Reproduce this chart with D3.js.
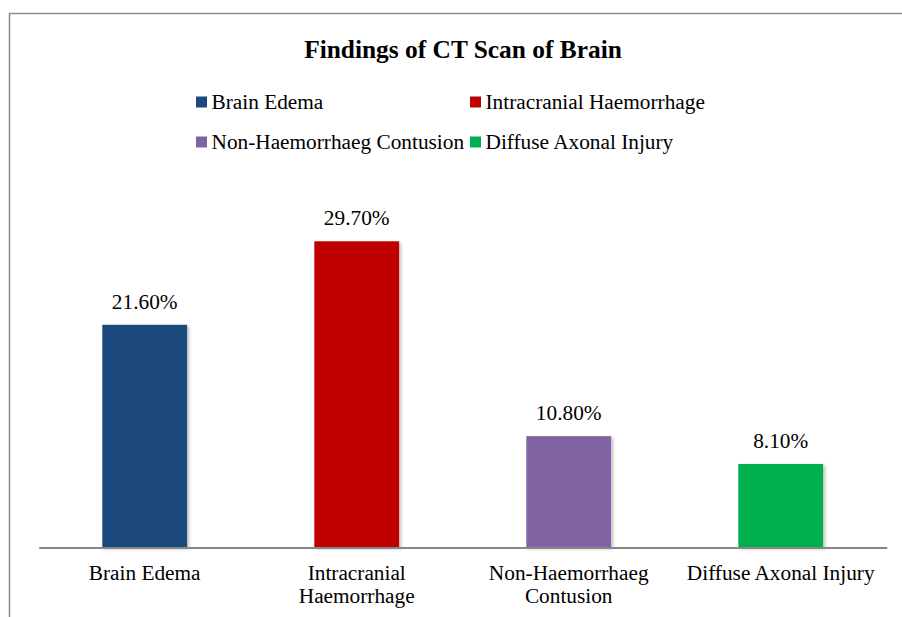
<!DOCTYPE html>
<html>
<head>
<meta charset="utf-8">
<script src="https://cdn.jsdelivr.net/npm/d3@7"></script>
<style>
  body { margin: 0; background: #fff; }
  text { font-family: "Liberation Serif", "Times New Roman", serif; fill: #000; }
</style>
</head>
<body>
<div id="chart"></div>
<script>
const w = 902;
const h = 617;

const categories = ["Brain Edema", "Intracranial Haemorrhage", "Non-Haemorrhaeg Contusion", "Diffuse Axonal Injury"];
const values = [21.6, 29.7, 10.8, 8.1];
const colors = ["#1F497D", "#C00000", "#8064A2", "#00B050"];
const title = "Findings of CT Scan of Brain";

const svg = d3.select('#chart')
  .append('svg')
  .attr('width', w)
  .attr('height', h);

// soft shadow like the office chart bars
const defs = svg.append('defs');
defs.append('filter')
  .attr('id', 'shadow')
  .attr('x', '-20%').attr('y', '-20%')
  .attr('width', '140%').attr('height', '140%')
  .append('feDropShadow')
  .attr('dx', 2).attr('dy', 1.5)
  .attr('stdDeviation', 1.5)
  .attr('flood-color', '#000')
  .attr('flood-opacity', 0.25);

// outer frame (runs off the right and bottom edge)
svg.append('rect')
  .attr('x', 9.5).attr('y', 13.5)
  .attr('width', 920).attr('height', 640)
  .attr('fill', 'none')
  .attr('stroke', '#8c8c8c')
  .attr('stroke-width', 1.5);

svg.append('text')
  .attr('x', 463)
  .attr('y', 58)
  .attr('text-anchor', 'middle')
  .attr('font-size', '25.4px')
  .attr('font-weight', 'bold')
  .text(title);

// legend, two columns
const legendX = [196, 470];
const legendY = [109, 149];
const legend = svg.selectAll('.legend')
  .data(categories)
  .enter()
  .append('g')
  .attr('class', 'legend')
  .attr('transform', function(d, i) {
    return 'translate(' + legendX[i % 2] + ',' + legendY[Math.floor(i / 2)] + ')';
  });
legend.append('rect')
  .attr('x', 0).attr('y', -12.5)
  .attr('width', 11).attr('height', 11)
  .attr('fill', function(d, i) { return colors[i]; });
legend.append('text')
  .attr('x', 15.5)
  .attr('font-size', '21.3px')
  .text(function(d) { return d; });

const plotLeft = 38.7;
const plotRight = 886.7;
const baseY = 547.5;

let xScale = d3.scaleBand()
  .domain(categories)
  .range([plotLeft, plotRight])
  .paddingInner(0.6)
  .paddingOuter(0.3);

let yScale = d3.scaleLinear()
  .domain([0, 30])
  .range([baseY, baseY - 30 * 10.31]);

svg.selectAll('.bar')
  .data(values)
  .enter()
  .append('rect')
  .attr('class', 'bar')
  .attr('x', function(d, i) { return xScale(categories[i]); })
  .attr('y', function(d) { return yScale(d); })
  .attr('width', xScale.bandwidth())
  .attr('height', function(d) { return baseY - yScale(d); })
  .attr('fill', function(d, i) { return colors[i]; })
  .attr('filter', 'url(#shadow)');

svg.selectAll('.val')
  .data(values)
  .enter()
  .append('text')
  .attr('class', 'val')
  .attr('x', function(d, i) { return xScale(categories[i]) + xScale.bandwidth() / 2; })
  .attr('y', function(d) { return yScale(d) - 16; })
  .attr('text-anchor', 'middle')
  .attr('font-size', '21.3px')
  .text(function(d) { return d.toFixed(2) + '%'; });

let xAxis = d3.axisBottom(xScale)
  .tickSize(0)
  .tickSizeOuter(0);

const gx = svg.append('g')
  .attr('transform', 'translate(0,' + baseY + ')')
  .call(xAxis);
gx.select('.domain').attr('stroke', '#868686').attr('stroke-width', 2);
gx.selectAll('.tick text')
  .attr('font-size', '21.3px')
  .attr('font-family', '"Liberation Serif", "Times New Roman", serif')
  .attr('fill', '#000')
  .call(wrap, 212 - 10);

function wrap(sel, width) {
  sel.each(function() {
    const t = d3.select(this);
    const words = t.text().split(/\s+/);
    t.text(null);
    let line = [];
    let lineNo = 0;
    let span = t.append('tspan').attr('x', 0).attr('y', 32);
    words.forEach(function(word) {
      line.push(word);
      span.text(line.join(' '));
      if (span.node().getComputedTextLength() > width && line.length > 1) {
        line.pop();
        span.text(line.join(' '));
        line = [word];
        lineNo++;
        span = t.append('tspan').attr('x', 0).attr('y', 32 + lineNo * 23.5).text(word);
      }
    });
    t.attr('dy', null);
  });
}
</script>
</body>
</html>
